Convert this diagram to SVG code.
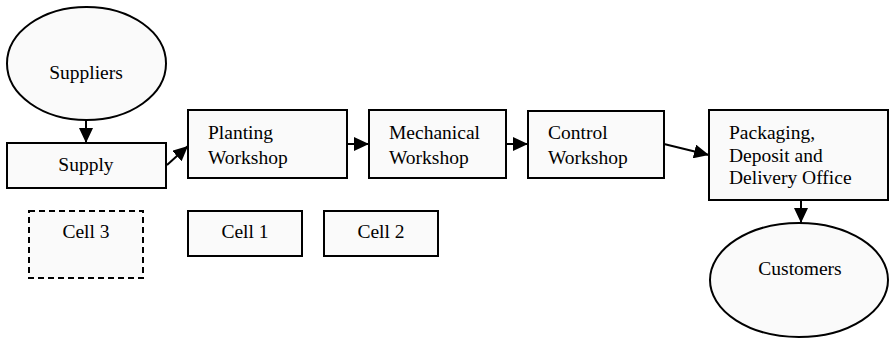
<svg xmlns="http://www.w3.org/2000/svg" width="889" height="339" viewBox="0 0 889 339">
<defs>
<style>
.n{fill:#fafafa;stroke:#000;stroke-width:2}
.d{stroke-dasharray:6,4}
.t{font-family:"Liberation Serif","Times New Roman",serif;font-size:19.5px;fill:#000}
.m{text-anchor:middle}
.c{fill:none;stroke:#000;stroke-width:2}
</style>
<marker id="ah" markerUnits="userSpaceOnUse" markerWidth="16" markerHeight="14" refX="15" refY="7" orient="auto">
<path d="M0,0 L15,7 L0,14 z" fill="#000"/>
</marker>
</defs>
<rect width="889" height="339" fill="#fff"/>
<g id="suppliers"><ellipse class="n" cx="86.5" cy="63.5" rx="79.5" ry="56.5"/><text class="t m" x="86" y="79">Suppliers</text></g>
<g id="supply"><rect class="n" x="7" y="143" width="159" height="45"/><text class="t m" x="86" y="171">Supply</text></g>
<g id="planting"><rect class="n" x="188" y="110" width="159" height="68"/><text class="t" x="208" y="139">Planting</text><text class="t" x="208" y="164">Workshop</text></g>
<g id="mechanical"><rect class="n" x="369" y="110" width="137" height="68"/><text class="t" x="389" y="139">Mechanical</text><text class="t" x="389" y="164">Workshop</text></g>
<g id="control"><rect class="n" x="528" y="111" width="136" height="67"/><text class="t" x="548" y="139">Control</text><text class="t" x="548" y="164">Workshop</text></g>
<g id="packaging"><rect class="n" x="709" y="110" width="179" height="90"/><text class="t" x="729" y="139">Packaging,</text><text class="t" x="729" y="161.5">Deposit and</text><text class="t" x="729" y="184">Delivery Office</text></g>
<g id="customers"><ellipse class="n" cx="799" cy="280" rx="89" ry="57"/><text class="t m" x="800" y="275">Customers</text></g>
<g id="cell3"><rect class="n d" x="29" y="211" width="114" height="67"/><text class="t m" x="86" y="238">Cell 3</text></g>
<g id="cell1"><rect class="n" x="188" y="211" width="114" height="45"/><text class="t m" x="245" y="238">Cell 1</text></g>
<g id="cell2"><rect class="n" x="324" y="211" width="114" height="45"/><text class="t m" x="381" y="238">Cell 2</text></g>
<g id="connectors">
<line class="c" x1="86" y1="120" x2="86" y2="143" marker-end="url(#ah)"/>
<line class="c" x1="167" y1="165" x2="188" y2="146" marker-end="url(#ah)"/>
<line class="c" x1="347" y1="144" x2="369" y2="144" marker-end="url(#ah)"/>
<line class="c" x1="506" y1="144" x2="528" y2="144" marker-end="url(#ah)"/>
<line class="c" x1="664" y1="144" x2="709" y2="155" marker-end="url(#ah)"/>
<line class="c" x1="801" y1="200" x2="801" y2="223" marker-end="url(#ah)"/>
</g>
</svg>
